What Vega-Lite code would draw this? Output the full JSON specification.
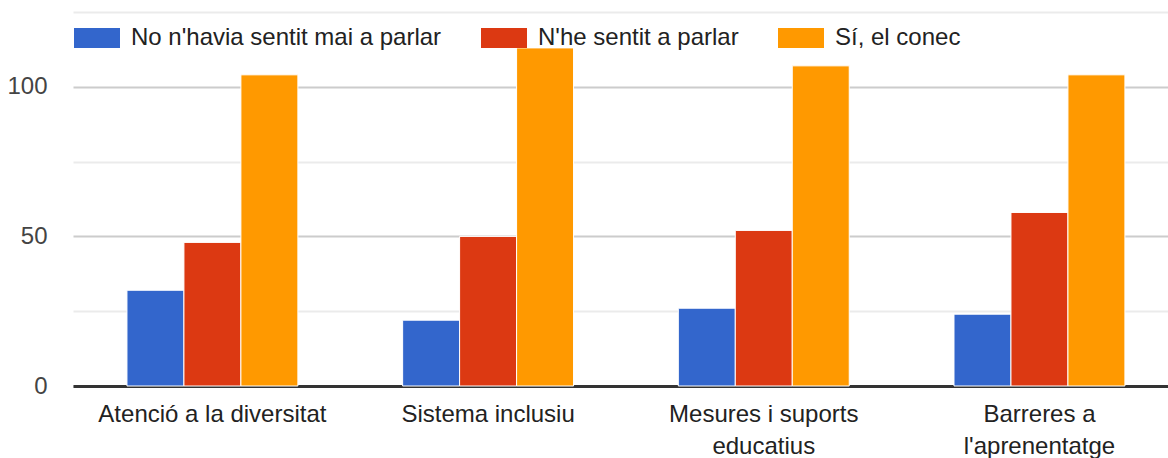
{
  "$schema": "https://vega.github.io/schema/vega-lite/v6.json",
  "autosize": "none",
  "width": 1095,
  "height": 374,
  "padding": {"left": 73, "top": 12, "right": 0, "bottom": 72},
  "background": "white",
  "config": {
    "font": "Liberation Sans",
    "view": {"stroke": null}
  },
  "data": {
    "values": [
      {"tema": "Atenció a la diversitat", "resposta": "No n'havia sentit mai a parlar", "n": 32},
      {"tema": "Atenció a la diversitat", "resposta": "N'he sentit a parlar", "n": 48},
      {"tema": "Atenció a la diversitat", "resposta": "Sí, el conec", "n": 104},
      {"tema": "Sistema inclusiu", "resposta": "No n'havia sentit mai a parlar", "n": 22},
      {"tema": "Sistema inclusiu", "resposta": "N'he sentit a parlar", "n": 50},
      {"tema": "Sistema inclusiu", "resposta": "Sí, el conec", "n": 113},
      {"tema": "Mesures i suports educatius", "resposta": "No n'havia sentit mai a parlar", "n": 26},
      {"tema": "Mesures i suports educatius", "resposta": "N'he sentit a parlar", "n": 52},
      {"tema": "Mesures i suports educatius", "resposta": "Sí, el conec", "n": 107},
      {"tema": "Barreres a l'aprenentatge", "resposta": "No n'havia sentit mai a parlar", "n": 24},
      {"tema": "Barreres a l'aprenentatge", "resposta": "N'he sentit a parlar", "n": 58},
      {"tema": "Barreres a l'aprenentatge", "resposta": "Sí, el conec", "n": 104}
    ]
  },
  "mark": {"type": "bar", "stroke": "white", "strokeWidth": 1},
  "encoding": {
    "x": {
      "field": "tema",
      "type": "nominal",
      "sort": null,
      "title": null,
      "scale": {"paddingInner": 0.38, "paddingOuter": 0.176, "align": 0.556},
      "axis": {
        "labelAngle": 0,
        "labelFontSize": 24,
        "labelColor": "#222222",
        "labelPadding": 16,
        "labelLineHeight": 32,
        "labelBaseline": "top",
        "labelLimit": 400,
        "ticks": false,
        "domain": true,
        "domainColor": "#333333",
        "domainWidth": 3,
        "labelExpr": "datum.label == 'Mesures i suports educatius' ? ['Mesures i suports', 'educatius'] : datum.label == \"Barreres a l'aprenentatge\" ? ['Barreres a', \"l'aprenentatge\"] : datum.label"
      }
    },
    "xOffset": {
      "field": "resposta",
      "type": "nominal",
      "sort": ["No n'havia sentit mai a parlar", "N'he sentit a parlar", "Sí, el conec"],
      "scale": {"paddingInner": 0, "paddingOuter": 0}
    },
    "y": {
      "field": "n",
      "type": "quantitative",
      "title": null,
      "scale": {"domain": [0, 125], "nice": false},
      "axis": {
        "values": [0, 25, 50, 75, 100, 125],
        "labelExpr": "datum.value % 50 === 0 && datum.value <= 100 ? datum.label : ''",
        "labelFontSize": 24,
        "labelColor": "#444444",
        "labelPadding": 26,
        "ticks": false,
        "domain": false,
        "grid": true,
        "gridWidth": 2,
        "gridColor": {"condition": {"test": "datum.value % 50 === 0", "value": "#cccccc"}, "value": "#ebebeb"}
      }
    },
    "color": {
      "field": "resposta",
      "type": "nominal",
      "sort": ["No n'havia sentit mai a parlar", "N'he sentit a parlar", "Sí, el conec"],
      "scale": {
        "domain": ["No n'havia sentit mai a parlar", "N'he sentit a parlar", "Sí, el conec"],
        "range": ["#3366cc", "#dc3912", "#ff9900"]
      },
      "legend": {
        "title": null,
        "orient": "none",
        "legendX": 1,
        "legendY": 3,
        "direction": "horizontal",
        "symbolType": "M-1,-0.44H1V0.44H-1Z",
        "symbolSize": 2116,
        "symbolStrokeWidth": 0,
        "symbolOpacity": 1,
        "labelFontSize": 24,
        "labelColor": "#222222",
        "labelOffset": 11,
        "labelLimit": 500,
        "columnPadding": 39
      }
    }
  }
}
